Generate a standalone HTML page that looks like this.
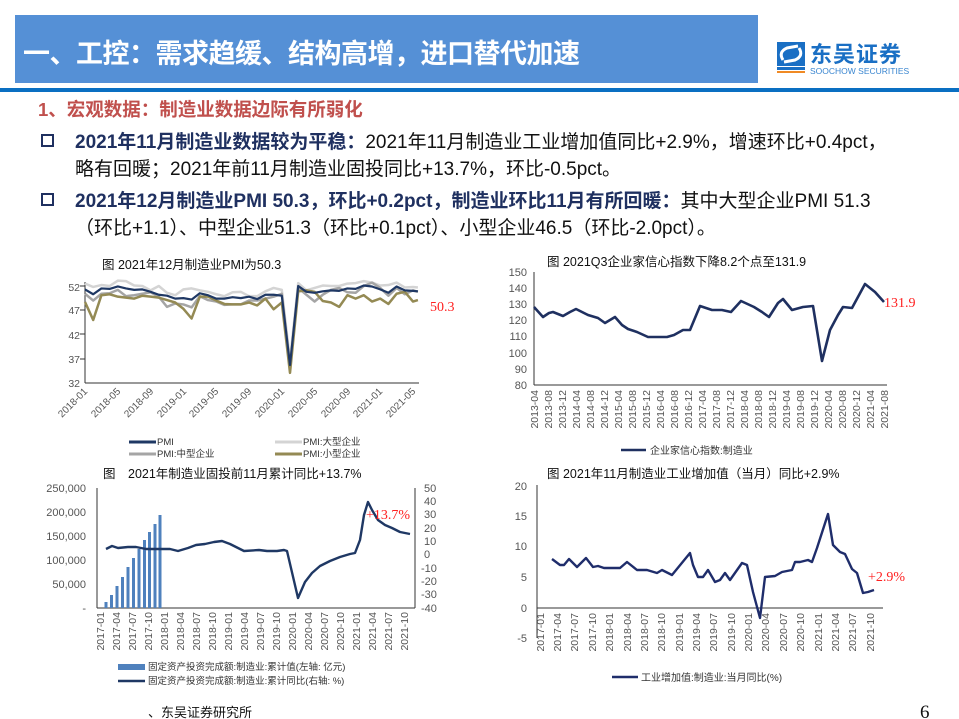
<!DOCTYPE html>
<html><head><meta charset="utf-8">
<style>
body{margin:0;width:959px;height:719px;background:#fff;overflow:hidden;position:relative;font-family:"Liberation Sans","Noto Sans CJK SC",sans-serif;}
.banner{position:absolute;left:15px;top:15px;width:743px;height:68px;background:#5590d6;}
.banner span{position:absolute;left:8px;top:17px;color:#fff;font-size:27px;font-weight:bold;letter-spacing:-0.5px;}
.rule{position:absolute;left:0;top:88px;width:959px;height:4px;background:#0a6fc2;}
.sub{position:absolute;left:38px;top:96px;color:#c0504d;font-size:18.5px;font-weight:bold;}
.b{position:absolute;left:75px;font-size:19px;color:#111;white-space:nowrap;}
.b strong{color:#1f3060;}
.sq{position:absolute;left:41px;width:9px;height:9px;border:2px solid #1f3060;}
svg{position:absolute;left:0;top:0;}
</style></head><body>
<div class="banner"><span>一、工控：需求趋缓、结构高增，进口替代加速</span></div>
<div class="rule"></div>
<div class="sub">1、宏观数据：制造业数据边际有所弱化</div>
<div class="sq" style="top:134px"></div>
<div class="b" style="top:127px"><strong>2021年11月制造业数据较为平稳：</strong>2021年11月制造业工业增加值同比+2.9%，增速环比+0.4pct，</div>
<div class="b" style="top:154px">略有回暖；2021年前11月制造业固投同比+13.7%，环比-0.5pct。</div>
<div class="sq" style="top:193px"></div>
<div class="b" style="top:186px"><strong>2021年12月制造业PMI 50.3，环比+0.2pct，制造业环比11月有所回暖：</strong>其中大型企业PMI 51.3</div>
<div class="b" style="top:213px">（环比+1.1）、中型企业51.3（环比+0.1pct）、小型企业46.5（环比-2.0pct）。</div>

<svg width="959" height="719" font-family="Liberation Sans, Noto Sans CJK SC, sans-serif">
<rect x="777" y="42" width="28" height="24" fill="#1a6fc4"/>
<path d="M783 60 Q778 52 787 48 L798 46 M799 48 Q804 56 795 60 L784 62" stroke="#fff" stroke-width="3" fill="none"/>
<rect x="777" y="67" width="28" height="3" fill="#1a6fc4"/>
<rect x="777" y="71" width="28" height="2" fill="#f08a24"/>
<text x="810" y="62" font-size="22" font-weight="bold" fill="#1a6fc4" letter-spacing="1">东吴证券</text>
<text x="810" y="74" font-size="8.5" fill="#3a86d0">SOOCHOW SECURITIES</text>

<!-- Chart 1 -->
<text x="102" y="269" font-size="12.5" fill="#111">图 2021年12月制造业PMI为50.3</text>
<g font-size="10.5" fill="#555" text-anchor="end">
<text x="80" y="291">52</text><text x="80" y="314">47</text><text x="80" y="339">42</text><text x="80" y="363">37</text><text x="80" y="387">32</text>
</g>
<line x1="85" y1="282" x2="85" y2="383" stroke="#333"/>
<line x1="85" y1="383" x2="419" y2="383" stroke="#333"/>
<g stroke="#333"><line x1="80" y1="286" x2="85" y2="286"/><line x1="80" y1="310" x2="85" y2="310"/><line x1="80" y1="334" x2="85" y2="334"/><line x1="80" y1="359" x2="85" y2="359"/></g>
<g transform="translate(85,538.2) scale(8.2,-4.85)" fill="none" stroke-linejoin="round">
<polyline vector-effect="non-scaling-stroke" stroke="#d4d4d4" stroke-width="2.5" points="0,52.5 1,51.8 2,52.2 3,52 4,53.1 5,53 6,52.1 7,52 8,51.1 9,52 10,50.6 11,50.1 12,51.3 13,51.5 14,51.1 15,50.8 16,50.3 17,49.9 18,50.7 19,50.8 20,49.9 21,49.9 22,50.9 23,51.6 24,51.2 25,36.6 26,52.6 27,51.1 28,51.6 29,52.1 30,52 31,52 32,52.5 33,52.6 34,53 35,52.7 36,52.1 37,52.2 38,52.7 39,51.7 40,51.8 40.6,51.7"/>
<polyline vector-effect="non-scaling-stroke" stroke="#a5a5a5" stroke-width="2.5" points="0,50.4 1,49 2,50.4 3,50.5 4,51.2 5,49.9 6,50.1 7,50.4 8,50.7 9,49.8 10,47.7 11,48.4 12,48.2 13,47.6 14,49.9 15,49.1 16,48.8 17,48.1 18,48.2 19,48.2 20,49 21,49 22,49.4 23,49.8 24,50.4 25,35.5 26,51.6 27,50.2 28,48.8 29,50.2 30,51.2 31,51.6 32,50.7 33,50.6 34,52 35,52.7 36,51.6 37,50 38,51.6 39,50.3 40,51.1 40.6,50.8"/>
<polyline vector-effect="non-scaling-stroke" stroke="#948a54" stroke-width="2.5" points="0,48.7 1,45 2,50.1 3,50.3 4,49.8 5,49.6 6,49.4 7,50 8,49.8 9,49.6 10,49.1 11,48.6 12,47.3 13,45.3 14,49.8 15,49.8 16,49 17,48.3 18,48.2 19,48.2 20,48.6 21,48 22,49.4 23,47.2 24,48.6 25,34.1 26,50.9 27,51.1 28,50.8 29,48.9 30,48.6 31,47.7 32,50.1 33,49.4 34,50.1 35,48.8 36,49.4 37,48.3 38,50.4 39,50.8 40,48.8 40.6,49.1"/>
<polyline vector-effect="non-scaling-stroke" stroke="#1f3864" stroke-width="2.2" points="0,51.3 1,50.3 2,51.5 3,51.4 4,51.9 5,51.5 6,51.2 7,51.3 8,50.8 9,50.2 10,50 11,49.4 12,49.5 13,49.2 14,50.5 15,50.1 16,49.4 17,49.4 18,49.7 19,49.5 20,49.8 21,49.3 22,50.2 23,50.2 24,50 25,35.7 26,52 27,50.8 28,50.6 29,50.9 30,51.1 31,51 32,51.5 33,51.4 34,52.1 35,51.9 36,51.3 37,50.6 38,51.9 39,51.1 40,51 40.6,50.9"/>
</g>
<g font-size="10" fill="#555" text-anchor="end">
<text transform="translate(88,392) rotate(-45)">2018-01</text>
<text transform="translate(121,392) rotate(-45)">2018-05</text>
<text transform="translate(154,392) rotate(-45)">2018-09</text>
<text transform="translate(187,392) rotate(-45)">2019-01</text>
<text transform="translate(219,392) rotate(-45)">2019-05</text>
<text transform="translate(252,392) rotate(-45)">2019-09</text>
<text transform="translate(285,392) rotate(-45)">2020-01</text>
<text transform="translate(318,392) rotate(-45)">2020-05</text>
<text transform="translate(351,392) rotate(-45)">2020-09</text>
<text transform="translate(383,392) rotate(-45)">2021-01</text>
<text transform="translate(416,392) rotate(-45)">2021-05</text>
</g>
<text x="430" y="311" font-size="14" fill="#ff2020" font-family="Liberation Serif, serif">50.3</text>
<g font-size="9.5" fill="#333">
<line x1="129" y1="442" x2="156" y2="442" stroke="#1f3864" stroke-width="3"/><text x="157" y="445">PMI</text>
<line x1="275" y1="442" x2="302" y2="442" stroke="#d4d4d4" stroke-width="3"/><text x="303" y="445">PMI:大型企业</text>
<line x1="129" y1="454" x2="156" y2="454" stroke="#a5a5a5" stroke-width="3"/><text x="157" y="457">PMI:中型企业</text>
<line x1="275" y1="454" x2="302" y2="454" stroke="#948a54" stroke-width="3"/><text x="303" y="457">PMI:小型企业</text>
</g>

<!-- Chart 2 -->
<text x="547" y="266" font-size="12.5" fill="#111">图 2021Q3企业家信心指数下降8.2个点至131.9</text>
<g font-size="11" fill="#555" text-anchor="end">
<text x="527" y="276">150</text><text x="527" y="292">140</text><text x="527" y="308">130</text><text x="527" y="324">120</text><text x="527" y="340">110</text><text x="527" y="357">100</text><text x="527" y="373">90</text><text x="527" y="389">80</text>
</g>
<line x1="534" y1="272" x2="534" y2="385" stroke="#333"/>
<line x1="534" y1="385" x2="887" y2="385" stroke="#333"/>
<polyline fill="none" stroke="#1f3060" stroke-width="2.6" stroke-linejoin="round" points="534,307 543,317 549,313 553,312 563,316 570,312 576,309 582,312 588,315 598,318 605,323 610,320 615,317 622,325 628,329 637,332 648,337 667,337 674,335 683,330 690,330 700,306 712,310 722,310 731,312 741,301 754,307 762,312 769,317 778,303 783,299 792,310 803,307 813,306 822,361 830,330 838,315 843,307 852,308 865,284 875,292 884,302"/>
<g font-size="10.5" fill="#555" text-anchor="end">
<text transform="translate(538,390) rotate(-90)">2013-04</text>
<text transform="translate(552,390) rotate(-90)">2013-08</text>
<text transform="translate(566,390) rotate(-90)">2013-12</text>
<text transform="translate(580,390) rotate(-90)">2014-04</text>
<text transform="translate(594,390) rotate(-90)">2014-08</text>
<text transform="translate(608,390) rotate(-90)">2014-12</text>
<text transform="translate(622,390) rotate(-90)">2015-04</text>
<text transform="translate(636,390) rotate(-90)">2015-08</text>
<text transform="translate(650,390) rotate(-90)">2015-12</text>
<text transform="translate(664,390) rotate(-90)">2016-04</text>
<text transform="translate(678,390) rotate(-90)">2016-08</text>
<text transform="translate(692,390) rotate(-90)">2016-12</text>
<text transform="translate(706,390) rotate(-90)">2017-04</text>
<text transform="translate(720,390) rotate(-90)">2017-08</text>
<text transform="translate(734,390) rotate(-90)">2017-12</text>
<text transform="translate(748,390) rotate(-90)">2018-04</text>
<text transform="translate(762,390) rotate(-90)">2018-08</text>
<text transform="translate(776,390) rotate(-90)">2018-12</text>
<text transform="translate(790,390) rotate(-90)">2019-04</text>
<text transform="translate(804,390) rotate(-90)">2019-08</text>
<text transform="translate(818,390) rotate(-90)">2019-12</text>
<text transform="translate(832,390) rotate(-90)">2020-04</text>
<text transform="translate(846,390) rotate(-90)">2020-08</text>
<text transform="translate(860,390) rotate(-90)">2020-12</text>
<text transform="translate(874,390) rotate(-90)">2021-04</text>
<text transform="translate(888,390) rotate(-90)">2021-08</text>
</g>
<text x="884" y="307" font-size="14" fill="#ff2020" font-family="Liberation Serif, serif">131.9</text>
<line x1="621" y1="450" x2="646" y2="450" stroke="#1f3060" stroke-width="2.6"/>
<text x="650" y="454" font-size="10" fill="#333">企业家信心指数:制造业</text>

<!-- Chart 3 -->
<text x="103" y="478" font-size="12.5" fill="#111">图　2021年制造业固投前11月累计同比+13.7%</text>
<g font-size="11" fill="#555" text-anchor="end">
<text x="86" y="492">250,000</text><text x="86" y="516">200,000</text><text x="86" y="540">150,000</text><text x="86" y="564">100,000</text><text x="86" y="588">50,000</text><text x="86" y="612">-</text>
</g>
<g font-size="11" fill="#555">
<text x="424" y="492">50</text><text x="424" y="505">40</text><text x="424" y="518">30</text><text x="424" y="532">20</text><text x="424" y="545">10</text><text x="424" y="558">0</text><text x="421" y="572">-10</text><text x="421" y="585">-20</text><text x="421" y="598">-30</text><text x="421" y="612">-40</text>
</g>
<line x1="97" y1="488" x2="97" y2="608" stroke="#333"/>
<line x1="415" y1="488" x2="415" y2="608" stroke="#333"/>
<line x1="97" y1="608" x2="415" y2="608" stroke="#333"/>
<g fill="#4f81bd">
<rect x="104.5" y="602" width="3" height="6"/><rect x="110" y="595" width="3" height="13"/><rect x="115.5" y="586" width="3" height="22"/><rect x="121" y="577" width="3" height="31"/><rect x="126.5" y="567" width="3" height="41"/><rect x="132" y="558" width="3" height="50"/><rect x="137.5" y="549" width="3" height="59"/><rect x="143" y="540" width="3" height="68"/><rect x="148" y="532" width="3" height="76"/><rect x="153.5" y="524" width="3" height="84"/><rect x="158.5" y="515" width="3" height="93"/>
</g>
<polyline fill="none" stroke="#1f3864" stroke-width="2.4" stroke-linejoin="round" points="106,549 112,546 118,548 128,547 136,547 146,549 158,549 170,549 178,551 188,548 196,545 205,544 214,542 222,541 230,544 238,548 244,551 259,550 267,551 277,551 284,550 287,551 298,598 305,582 312,573 320,566 330,561 340,557 350,554 355,553 360,540 364,515 368,502 372,510 378,520 385,525 392,528 400,532 410,534"/>
<g font-size="10.5" fill="#555" text-anchor="end">
<text transform="translate(104,612) rotate(-90)">2017-01</text>
<text transform="translate(120,612) rotate(-90)">2017-04</text>
<text transform="translate(136,612) rotate(-90)">2017-07</text>
<text transform="translate(152,612) rotate(-90)">2017-10</text>
<text transform="translate(168,612) rotate(-90)">2018-01</text>
<text transform="translate(184,612) rotate(-90)">2018-04</text>
<text transform="translate(200,612) rotate(-90)">2018-07</text>
<text transform="translate(216,612) rotate(-90)">2018-10</text>
<text transform="translate(232,612) rotate(-90)">2019-01</text>
<text transform="translate(248,612) rotate(-90)">2019-04</text>
<text transform="translate(264,612) rotate(-90)">2019-07</text>
<text transform="translate(280,612) rotate(-90)">2019-10</text>
<text transform="translate(296,612) rotate(-90)">2020-01</text>
<text transform="translate(312,612) rotate(-90)">2020-04</text>
<text transform="translate(328,612) rotate(-90)">2020-07</text>
<text transform="translate(344,612) rotate(-90)">2020-10</text>
<text transform="translate(360,612) rotate(-90)">2021-01</text>
<text transform="translate(376,612) rotate(-90)">2021-04</text>
<text transform="translate(392,612) rotate(-90)">2021-07</text>
<text transform="translate(408,612) rotate(-90)">2021-10</text>
</g>
<text x="366" y="519" font-size="14" fill="#ff2020" font-family="Liberation Serif, serif">+13.7%</text>
<rect x="118" y="664" width="27" height="6" fill="#4f81bd"/>
<text x="148" y="670" font-size="9.5" fill="#333">固定资产投资完成额:制造业:累计值(左轴: 亿元)</text>
<line x1="118" y1="681" x2="145" y2="681" stroke="#1f3864" stroke-width="2.4"/>
<text x="148" y="684" font-size="9.5" fill="#333">固定资产投资完成额:制造业:累计同比(右轴: %)</text>
<text x="148" y="717" font-size="13" fill="#111">、东吴证券研究所</text>

<!-- Chart 4 -->
<text x="547" y="478" font-size="12.5" fill="#111">图 2021年11月制造业工业增加值（当月）同比+2.9%</text>
<g font-size="11" fill="#555" text-anchor="end">
<text x="527" y="490">20</text><text x="527" y="520">15</text><text x="527" y="550">10</text><text x="527" y="581">5</text><text x="527" y="612">0</text><text x="527" y="642">-5</text>
</g>
<line x1="537" y1="485" x2="537" y2="638" stroke="#333"/>
<line x1="537" y1="608" x2="883" y2="608" stroke="#333"/>
<polyline fill="none" stroke="#1f2d6b" stroke-width="2.4" stroke-linejoin="round" points="552,559 560,565 564,565 569,559 577,567 586,558 593,567 598,566 604,568 620,568 627,562 637,570 647,570 657,573 662,570 672,575 690,553 693,565 698,577 703,577 708,570 715,582 720,580 725,573 730,580 742,563 747,565 753,592 760,618 765,577 775,576 782,572 792,570 795,562 800,562 808,560 812,562 817,548 828,514 833,545 840,552 845,554 852,569 857,573 863,593 868,592 874,590"/>
<g font-size="10.5" fill="#555" text-anchor="end">
<text transform="translate(544,613) rotate(-90)">2017-01</text>
<text transform="translate(561,613) rotate(-90)">2017-04</text>
<text transform="translate(578,613) rotate(-90)">2017-07</text>
<text transform="translate(596,613) rotate(-90)">2017-10</text>
<text transform="translate(613,613) rotate(-90)">2018-01</text>
<text transform="translate(631,613) rotate(-90)">2018-04</text>
<text transform="translate(648,613) rotate(-90)">2018-07</text>
<text transform="translate(665,613) rotate(-90)">2018-10</text>
<text transform="translate(683,613) rotate(-90)">2019-01</text>
<text transform="translate(700,613) rotate(-90)">2019-04</text>
<text transform="translate(717,613) rotate(-90)">2019-07</text>
<text transform="translate(735,613) rotate(-90)">2019-10</text>
<text transform="translate(752,613) rotate(-90)">2020-01</text>
<text transform="translate(769,613) rotate(-90)">2020-04</text>
<text transform="translate(787,613) rotate(-90)">2020-07</text>
<text transform="translate(804,613) rotate(-90)">2020-10</text>
<text transform="translate(822,613) rotate(-90)">2021-01</text>
<text transform="translate(839,613) rotate(-90)">2021-04</text>
<text transform="translate(856,613) rotate(-90)">2021-07</text>
<text transform="translate(874,613) rotate(-90)">2021-10</text>
</g>
<text x="868" y="581" font-size="14" fill="#ff2020" font-family="Liberation Serif, serif">+2.9%</text>
<line x1="612" y1="677" x2="638" y2="677" stroke="#1f2d6b" stroke-width="2.4"/>
<text x="641" y="681" font-size="10" fill="#333">工业增加值:制造业:当月同比(%)</text>
<text x="920" y="718" font-size="19" fill="#111" font-family="Liberation Serif, serif">6</text>
</svg>
</body></html>
